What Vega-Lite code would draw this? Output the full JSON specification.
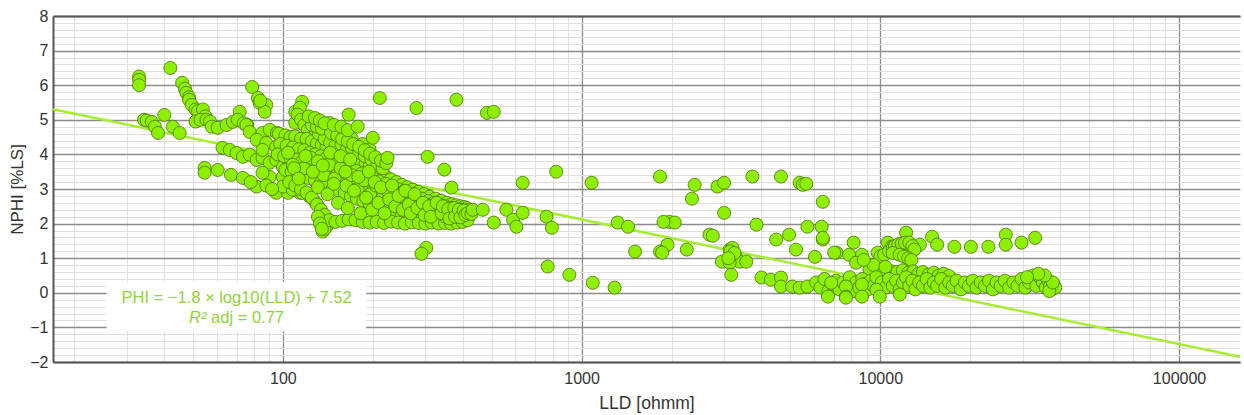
{
"$schema": "https://vega.github.io/schema/vega-lite/v6.json",
"width": 1187,
"height": 346,
"autosize": "none",
"padding": {"left": 53, "top": 16, "right": 4, "bottom": 53},
"background": "white",
"config": {"view": {"stroke": null}, "font": "Liberation Sans"},
"datasets": {
"fit": [{"x": 17, "y": 5.305}, {"x": 160000, "y": -1.847}],
"box": [{"x": 25.7, "x2": 190, "y": 0.32, "y2": -1.12}],
"note1": [{"x": 70, "y": -0.14, "label": "PHI = −1.8 × log10(LLD) + 7.52"}],
"note2": [{"x": 55.5, "y": -0.72, "label": "R²"}],
"note3": [{"x": 57.5, "y": -0.72, "label": "adj = 0.77"}],
"pts": [
{"x":33,"y":6.25},{"x":33,"y":6.15},{"x":33,"y":6.0},{"x":42,"y":6.5},
{"x":46,"y":6.07},{"x":47,"y":5.9},{"x":47.5,"y":5.78},{"x":48.5,"y":5.65},{"x":48.5,"y":5.58},{"x":49.5,"y":5.43},{"x":51,"y":5.3},{"x":52,"y":5.25},{"x":54,"y":5.3},{"x":55,"y":5.1},{"x":51,"y":4.95},{"x":53,"y":5.0},{"x":55.5,"y":5.0},{"x":57,"y":4.95},
{"x":34.3,"y":5.0},{"x":35,"y":4.98},{"x":36.4,"y":4.94},{"x":37.3,"y":4.8},{"x":38.2,"y":4.62},{"x":40.1,"y":5.14},{"x":42.8,"y":4.8},{"x":45.1,"y":4.62},
{"x":54.7,"y":3.61},{"x":54.7,"y":3.47},{"x":60.5,"y":3.55},{"x":67,"y":3.41},
{"x":57.8,"y":4.8},{"x":60.5,"y":4.77},{"x":64.8,"y":4.85},{"x":68,"y":4.94},{"x":71.7,"y":5.23},{"x":70.6,"y":5.0},{"x":76,"y":4.85},{"x":74,"y":4.9},
{"x":78.9,"y":5.95},{"x":82.5,"y":5.63},{"x":83.6,"y":5.49},{"x":88,"y":5.43},{"x":86.9,"y":5.23},{"x":84,"y":5.55},
{"x":62.8,"y":4.19},{"x":66.4,"y":4.13},{"x":70,"y":4.04},{"x":73.5,"y":3.93},{"x":77.4,"y":3.99},{"x":81.7,"y":3.84},{"x":85.5,"y":3.9},{"x":90.3,"y":3.76},{"x":95,"y":3.84},{"x":100,"y":3.64},{"x":105,"y":3.76},
{"x":73.5,"y":3.32},{"x":81.7,"y":3.07},{"x":95,"y":2.89},{"x":104,"y":2.89},{"x":114,"y":2.89},{"x":123,"y":2.78},{"x":129,"y":2.6},{"x":136,"y":1.77},{"x":140,"y":1.91},{"x":138,"y":1.85},
{"x":75.5,"y":4.85},{"x":77.4,"y":4.65},{"x":85.5,"y":4.62},{"x":90.3,"y":4.71},{"x":95.6,"y":4.62},{"x":81.7,"y":4.42},{"x":88,"y":4.33},{"x":95,"y":4.22},{"x":100,"y":4.36},{"x":85.5,"y":4.13},{"x":90.3,"y":3.35},{"x":100,"y":3.35},{"x":85.5,"y":3.47},{"x":100,"y":3.07},{"x":108,"y":2.98},{"x":116,"y":2.89},{"x":127,"y":3.27},{"x":78,"y":3.2},{"x":88,"y":3.1},{"x":92,"y":3.0},
{"x":116,"y":5.52},{"x":110,"y":5.23},{"x":113,"y":5.09},{"x":110,"y":4.91},{"x":120,"y":4.91},{"x":126,"y":4.71},{"x":136,"y":4.8},{"x":114,"y":5.35},{"x":112,"y":5.15},{"x":115,"y":5.0},{"x":118,"y":4.85},{"x":121,"y":4.7},{"x":127,"y":4.51},{"x":129,"y":4.65},{"x":143,"y":4.91},{"x":146,"y":4.62},{"x":140,"y":4.75},{"x":150,"y":4.6},{"x":155,"y":4.45},
{"x":97,"y":4.6},{"x":102,"y":4.55},{"x":106,"y":4.5},{"x":110,"y":4.52},{"x":115,"y":4.45},{"x":120,"y":4.45},{"x":125,"y":4.38},{"x":130,"y":4.32},{"x":135,"y":4.28},{"x":140,"y":4.2},{"x":146,"y":4.12},{"x":152,"y":4.06},{"x":160,"y":4.0},{"x":166,"y":3.95},{"x":172,"y":3.9},{"x":177,"y":3.85},{"x":183,"y":3.78},{"x":189,"y":3.72},{"x":195,"y":3.65},{"x":203,"y":3.56},{"x":211,"y":3.47},{"x":220,"y":3.38},{"x":230,"y":3.28},{"x":240,"y":3.2},{"x":250,"y":3.12},{"x":261,"y":3.05},{"x":272,"y":2.98},{"x":284,"y":2.92},{"x":297,"y":2.85},{"x":310,"y":2.78},{"x":324,"y":2.72},{"x":339,"y":2.66},{"x":354,"y":2.6},{"x":368,"y":2.56},{"x":380,"y":2.53},{"x":392,"y":2.5},{"x":405,"y":2.48},{"x":413,"y":2.45},{"x":420,"y":2.4},{"x":425,"y":2.35},
{"x":98,"y":4.3},{"x":103,"y":4.25},{"x":108,"y":4.2},{"x":113,"y":4.15},{"x":118,"y":4.12},{"x":123,"y":4.05},{"x":128,"y":4.0},{"x":134,"y":3.95},{"x":140,"y":3.9},{"x":146,"y":3.82},{"x":153,"y":3.75},{"x":160,"y":3.68},{"x":168,"y":3.6},{"x":176,"y":3.52},{"x":184,"y":3.45},{"x":192,"y":3.38},{"x":201,"y":3.3},{"x":210,"y":3.22},{"x":220,"y":3.15},{"x":231,"y":3.07},{"x":242,"y":3.0},{"x":254,"y":2.93},{"x":266,"y":2.86},{"x":279,"y":2.78},{"x":292,"y":2.72},{"x":306,"y":2.65},{"x":320,"y":2.6},{"x":335,"y":2.55},{"x":350,"y":2.5},{"x":365,"y":2.45},{"x":380,"y":2.42},{"x":395,"y":2.4},{"x":410,"y":2.35},
{"x":96,"y":4.0},{"x":101,"y":3.95},{"x":106,"y":3.9},{"x":111,"y":3.85},{"x":116,"y":3.8},{"x":121,"y":3.75},{"x":127,"y":3.7},{"x":133,"y":3.62},{"x":139,"y":3.55},{"x":145,"y":3.5},{"x":152,"y":3.42},{"x":159,"y":3.35},{"x":167,"y":3.28},{"x":175,"y":3.2},{"x":183,"y":3.12},{"x":192,"y":3.05},{"x":201,"y":2.98},{"x":211,"y":2.9},{"x":222,"y":2.83},{"x":233,"y":2.76},{"x":245,"y":2.7},{"x":258,"y":2.63},{"x":271,"y":2.56},{"x":285,"y":2.5},{"x":300,"y":2.45},{"x":315,"y":2.4},{"x":331,"y":2.35},{"x":347,"y":2.3},{"x":363,"y":2.28},{"x":380,"y":2.25},{"x":398,"y":2.22},
{"x":102,"y":3.55},{"x":107,"y":3.5},{"x":112,"y":3.45},{"x":117,"y":3.4},{"x":122,"y":3.32},{"x":128,"y":3.25},{"x":134,"y":3.18},{"x":140,"y":3.1},{"x":147,"y":3.02},{"x":154,"y":2.95},{"x":161,"y":2.88},{"x":169,"y":2.8},{"x":177,"y":2.72},{"x":186,"y":2.65},{"x":195,"y":2.58},{"x":205,"y":2.52},{"x":215,"y":2.46},{"x":226,"y":2.4},{"x":238,"y":2.35},{"x":250,"y":2.3},{"x":263,"y":2.25},{"x":277,"y":2.2},{"x":291,"y":2.18},{"x":306,"y":2.15},{"x":322,"y":2.12},{"x":338,"y":2.1},{"x":355,"y":2.08},{"x":372,"y":2.1},{"x":390,"y":2.12},{"x":405,"y":2.15},{"x":418,"y":2.2},
{"x":105,"y":3.2},{"x":110,"y":3.1},{"x":115,"y":3.0},{"x":120,"y":2.9},{"x":125,"y":2.75},{"x":130,"y":2.55},{"x":134,"y":2.4},{"x":138,"y":2.25},{"x":143,"y":2.1},{"x":150,"y":2.05},{"x":158,"y":2.08},{"x":166,"y":2.12},{"x":175,"y":2.1},{"x":185,"y":2.05},{"x":195,"y":2.03},{"x":206,"y":2.05},{"x":218,"y":2.02},{"x":230,"y":2.06},{"x":243,"y":2.03},{"x":256,"y":2.0},{"x":270,"y":2.04},{"x":285,"y":2.02},{"x":300,"y":2.0},{"x":315,"y":2.03},{"x":332,"y":2.0},{"x":349,"y":2.02},{"x":366,"y":2.0},{"x":383,"y":2.03},{"x":400,"y":2.05},{"x":415,"y":2.1},
{"x":108,"y":3.7},{"x":118,"y":3.6},{"x":124,"y":3.9},{"x":131,"y":3.8},{"x":137,"y":3.4},{"x":143,"y":3.7},{"x":149,"y":3.3},{"x":156,"y":3.6},{"x":163,"y":3.1},{"x":170,"y":3.4},{"x":178,"y":3.0},{"x":187,"y":3.25},{"x":196,"y":2.85},{"x":205,"y":3.1},{"x":214,"y":2.7},{"x":224,"y":2.95},{"x":235,"y":2.6},{"x":247,"y":2.85},{"x":260,"y":2.45},{"x":274,"y":2.68},{"x":288,"y":2.35},{"x":303,"y":2.55},{"x":318,"y":2.3},{"x":334,"y":2.45},{"x":350,"y":2.2},{"x":368,"y":2.35},{"x":385,"y":2.3},{"x":400,"y":2.28},
{"x":132,"y":4.6},{"x":138,"y":4.45},{"x":144,"y":4.35},{"x":150,"y":4.25},{"x":157,"y":4.3},{"x":164,"y":4.15},{"x":170,"y":4.2},{"x":180,"y":4.05},{"x":188,"y":3.95},{"x":198,"y":3.85},{"x":207,"y":3.7},{"x":216,"y":3.6},{"x":185,"y":4.3},{"x":195,"y":4.15},{"x":160,"y":4.55},{"x":170,"y":4.45},
{"x":125,"y":4.85},{"x":130,"y":4.8},{"x":135,"y":4.75},{"x":145,"y":4.62},{"x":152,"y":4.55},{"x":158,"y":4.45},{"x":165,"y":4.38},{"x":172,"y":4.3},{"x":180,"y":4.22},{"x":188,"y":4.12},{"x":196,"y":4.02},{"x":204,"y":3.92},{"x":213,"y":3.82},{"x":222,"y":3.75},
{"x":122,"y":5.1},{"x":128,"y":5.05},{"x":133,"y":4.98},{"x":138,"y":4.9},{"x":148,"y":4.85},{"x":157,"y":4.8},{"x":165,"y":4.7},
{"x":104,"y":4.05},{"x":109,"y":3.6},{"x":113,"y":3.3},{"x":119,"y":3.95},{"x":126,"y":3.5},{"x":131,"y":3.05},{"x":136,"y":3.68},{"x":141,"y":2.85},{"x":144,"y":4.05},{"x":148,"y":3.15},{"x":153,"y":2.6},{"x":156,"y":3.95},{"x":162,"y":3.5},{"x":165,"y":2.45},{"x":168,"y":3.85},{"x":173,"y":2.95},{"x":179,"y":3.35},{"x":182,"y":2.3},{"x":190,"y":2.75},{"x":194,"y":3.5},{"x":199,"y":2.4},{"x":203,"y":3.2},{"x":209,"y":2.6},{"x":213,"y":3.05},{"x":219,"y":2.3},{"x":227,"y":2.7},{"x":232,"y":3.1},{"x":238,"y":2.5},{"x":244,"y":2.8},{"x":252,"y":2.4},{"x":257,"y":2.95},{"x":264,"y":2.55},{"x":268,"y":2.3},{"x":276,"y":2.85},{"x":282,"y":2.45},{"x":294,"y":2.6},{"x":298,"y":2.25},{"x":309,"y":2.5},{"x":313,"y":2.2},{"x":327,"y":2.6},{"x":340,"y":2.3},{"x":343,"y":2.5},{"x":358,"y":2.42},{"x":361,"y":2.15},{"x":375,"y":2.45},{"x":377,"y":2.2},{"x":388,"y":2.4},{"x":393,"y":2.18},{"x":403,"y":2.38},{"x":408,"y":2.25},{"x":416,"y":2.3},{"x":428,"y":2.28},{"x":432,"y":2.4},{"x":131,"y":2.2},{"x":133,"y":2.0},{"x":135,"y":1.85},
{"x":166,"y":5.15},{"x":178,"y":4.8},{"x":200,"y":4.48},{"x":224,"y":3.9},{"x":305,"y":3.93},{"x":347,"y":3.56},{"x":367,"y":3.04},{"x":302,"y":1.3},{"x":291,"y":1.13},
{"x":211,"y":5.63},{"x":280,"y":5.34},{"x":381,"y":5.58},{"x":482,"y":5.2},{"x":508,"y":5.23},
{"x":467,"y":2.40},{"x":508,"y":2.03},{"x":560,"y":2.40},{"x":590,"y":2.11},{"x":605,"y":1.91},{"x":635,"y":2.31},{"x":635,"y":3.18},{"x":763,"y":2.20},{"x":795,"y":1.88},{"x":822,"y":3.50},{"x":770,"y":0.76},{"x":910,"y":0.52},{"x":1080,"y":3.18},{"x":1090,"y":0.29},{"x":1290,"y":0.15},{"x":1320,"y":2.03},{"x":1430,"y":1.91},{"x":1510,"y":1.19},{"x":1830,"y":3.36},{"x":1970,"y":2.05},{"x":2050,"y":2.03},{"x":1880,"y":2.05},{"x":1940,"y":1.39},{"x":1830,"y":1.19},{"x":1860,"y":1.16},{"x":2250,"y":1.25},{"x":2340,"y":2.72},{"x":2390,"y":3.12},{"x":2680,"y":1.68},{"x":2750,"y":1.65},{"x":2850,"y":3.07},{"x":3000,"y":3.18},{"x":3000,"y":2.31},{"x":3130,"y":1.25},{"x":3200,"y":1.30},{"x":3290,"y":1.04},{"x":3380,"y":0.90},{"x":2950,"y":0.90},{"x":3130,"y":0.87},{"x":3560,"y":0.90},{"x":3150,"y":1.2},{"x":3250,"y":1.15},{"x":3100,"y":1.0},{"x":3170,"y":0.52},{"x":3730,"y":3.36},{"x":3850,"y":1.97},{"x":4000,"y":0.44},{"x":4300,"y":0.38},{"x":4650,"y":0.44},{"x":4650,"y":0.18},{"x":5070,"y":0.18},{"x":5370,"y":0.15},{"x":5700,"y":0.18},{"x":4480,"y":1.54},{"x":4650,"y":3.36},{"x":4950,"y":1.68},{"x":5220,"y":1.25},{"x":5370,"y":3.18},{"x":5500,"y":3.12},{"x":5650,"y":3.15},{"x":5700,"y":1.91},{"x":6040,"y":1.04},{"x":6420,"y":2.63},{"x":6360,"y":1.91},{"x":6420,"y":1.54},{"x":7130,"y":1.16},{"x":7860,"y":1.10},{"x":8140,"y":1.45},{"x":8680,"y":1.10},
{"x":6420,"y":1.59},{"x":7010,"y":1.16},{"x":9800,"y":1.16},{"x":10600,"y":1.45},{"x":10900,"y":1.33},{"x":11400,"y":1.25},{"x":11800,"y":1.16},{"x":12300,"y":1.19},{"x":12200,"y":1.74},{"x":13560,"y":1.39},{"x":14900,"y":1.62},{"x":15500,"y":1.39},{"x":17700,"y":1.33},{"x":20100,"y":1.33},{"x":23000,"y":1.33},{"x":26300,"y":1.68},{"x":26300,"y":1.39},{"x":29700,"y":1.45},{"x":33000,"y":1.59},
{"x":10000,"y":1.05},{"x":10300,"y":1.1},{"x":10700,"y":1.2},{"x":11000,"y":1.3},{"x":11200,"y":1.35},{"x":11500,"y":1.4},{"x":11800,"y":1.42},{"x":12100,"y":1.45},{"x":12500,"y":1.45},{"x":12800,"y":1.35},{"x":13000,"y":1.25},{"x":11000,"y":1.15},{"x":11600,"y":1.1},{"x":12000,"y":1.05},{"x":12400,"y":1.0},{"x":12700,"y":0.95},
{"x":10900,"y":0.62},{"x":11400,"y":0.6},{"x":11900,"y":0.65},{"x":12400,"y":0.58},{"x":12900,"y":0.62},{"x":13400,"y":0.55},{"x":13900,"y":0.6},{"x":14500,"y":0.52},{"x":15100,"y":0.58},{"x":15700,"y":0.5},{"x":16300,"y":0.55},{"x":17000,"y":0.48},{"x":8300,"y":0.87},{"x":9200,"y":0.67},{"x":9960,"y":0.58},{"x":9500,"y":0.8},{"x":10400,"y":0.75},{"x":8800,"y":0.95},
{"x":6100,"y":0.3},{"x":6300,"y":0.15},{"x":6500,"y":0.4},{"x":6700,"y":0.05},{"x":6900,"y":0.25},{"x":7100,"y":0.35},{"x":7300,"y":0.1},{"x":7500,"y":0.3},{"x":7700,"y":0.2},{"x":7900,"y":0.45},{"x":8100,"y":0.05},{"x":8300,"y":0.3},{"x":8500,"y":0.15},{"x":8700,"y":0.4},{"x":8900,"y":0.25},{"x":9100,"y":0.1},{"x":9300,"y":0.35},{"x":9500,"y":0.2},{"x":9700,"y":0.45},{"x":9900,"y":0.05},{"x":10100,"y":0.3},{"x":10400,"y":0.15},{"x":10700,"y":0.4},{"x":11000,"y":0.2},{"x":11300,"y":0.35},{"x":11600,"y":0.1},{"x":11900,"y":0.3},{"x":12200,"y":0.45},{"x":12500,"y":0.2},{"x":12800,"y":0.35},{"x":13100,"y":0.1},{"x":13500,"y":0.3},{"x":13900,"y":0.2},{"x":14300,"y":0.4},{"x":14700,"y":0.15},{"x":15100,"y":0.3},{"x":15500,"y":0.2},{"x":16000,"y":0.4},{"x":16500,"y":0.15},{"x":17000,"y":0.3},{"x":17500,"y":0.2},{"x":18000,"y":0.35},{"x":18600,"y":0.1},{"x":19200,"y":0.3},{"x":19800,"y":0.2},{"x":20400,"y":0.35},{"x":21000,"y":0.15},{"x":21700,"y":0.3},{"x":22400,"y":0.2},{"x":23100,"y":0.35},{"x":23800,"y":0.1},{"x":24500,"y":0.3},{"x":25300,"y":0.2},{"x":26100,"y":0.35},{"x":27000,"y":0.15},{"x":27900,"y":0.3},{"x":28800,"y":0.2},{"x":29700,"y":0.4},{"x":30600,"y":0.15},{"x":31500,"y":0.3},{"x":32400,"y":0.5},{"x":33300,"y":0.2},{"x":34200,"y":0.45},{"x":35000,"y":0.3},{"x":35800,"y":0.15},{"x":36500,"y":0.35},{"x":37000,"y":0.2},{"x":37500,"y":0.1},{"x":38000,"y":0.25},{"x":38500,"y":0.15},{"x":36800,"y":0.05},{"x":37800,"y":0.3},{"x":35500,"y":0.5},{"x":33800,"y":0.55},{"x":31000,"y":0.45},
{"x":6850,"y":0.29},{"x":7670,"y":0.18},{"x":8680,"y":0.24},{"x":9700,"y":0.09},
{"x":6680,"y":-0.11},{"x":7670,"y":-0.11},{"x":8680,"y":-0.11},{"x":9960,"y":-0.11},{"x":11620,"y":-0.05},{"x":7670,"y":-0.14}
]
},
"layer": [
{
"data": {"name": "box"},
"mark": {"type": "rect", "fill": "white", "stroke": null},
"encoding": {
"x": {"field": "x", "type": "quantitative", "scale": {"type": "log", "domain": [17, 160000], "nice": false},
"axis": {"orient": "bottom", "values": [20,30,40,50,60,70,80,90,200,300,400,500,600,700,800,900,2000,3000,4000,5000,6000,7000,8000,9000,20000,30000,40000,50000,60000,70000,80000,90000], "labels": false, "ticks": false, "domain": false, "grid": true, "gridColor": "#e0e0e0", "gridWidth": 1, "title": null}},
"x2": {"field": "x2"},
"y": {"field": "y", "type": "quantitative", "scale": {"domain": [-2, 8], "nice": false, "zero": false},
"axis": {"orient": "left", "values": [-1.8,-1.6,-1.4,-1.2,-0.8,-0.6,-0.4,-0.2,0.2,0.4,0.6,0.8,1.2,1.4,1.6,1.8,2.2,2.4,2.6,2.8,3.2,3.4,3.6,3.8,4.2,4.4,4.6,4.8,5.2,5.4,5.6,5.8,6.2,6.4,6.6,6.8,7.2,7.4,7.6,7.8], "labels": false, "ticks": false, "domain": false, "grid": true, "gridColor": "#e0e0e0", "gridWidth": 1, "title": null}},
"y2": {"field": "y2"}
}
},
{
"data": {"name": "fit"},
"mark": {"type": "line", "color": "#a4ee32", "strokeWidth": 2.5, "clip": true},
"encoding": {
"x": {"field": "x", "type": "quantitative", "axis": {"orient": "top", "labels": false, "ticks": false, "grid": false, "domain": true, "domainColor": "#555555", "domainWidth": 2, "title": null}},
"y": {"field": "y", "type": "quantitative", "axis": null}
}
},
{
"data": {"name": "pts"},
"mark": {"type": "point", "shape": "circle", "filled": true, "fill": "#8cf000", "stroke": "#4a7400", "strokeWidth": 0.8, "opacity": 1, "size": 170},
"encoding": {
"x": {"field": "x", "type": "quantitative", "title": "LLD [ohmm]",
"axis": {"orient": "bottom", "values": [100, 1000, 10000, 100000], "format": "d", "grid": true, "gridColor": "#8c8c8c", "gridWidth": 1.3, "ticks": false, "domain": true, "domainColor": "#555555", "domainWidth": 2, "labelFontSize": 16, "labelColor": "#333333", "labelPadding": 8, "titleFontSize": 17.5, "titleFontWeight": "normal", "titleColor": "#333333", "titlePadding": 8}},
"y": {"field": "y", "type": "quantitative", "title": "NPHI [%LS]",
"axis": {"orient": "left", "values": [-2,-1,0,1,2,3,4,5,6,7,8], "format": "d", "grid": true, "gridColor": "#8c8c8c", "gridWidth": 1.3, "ticks": false, "domain": true, "domainColor": "#555555", "domainWidth": 2, "labelFontSize": 16, "labelColor": "#333333", "labelPadding": 5, "titleFontSize": 17, "titleFontWeight": "normal", "titleColor": "#333333", "titlePadding": 3}}
}
},
{
"data": {"name": "note1"},
"mark": {"type": "text", "fontSize": 16.5, "color": "#8fd43e", "align": "center", "baseline": "middle"},
"encoding": {
"x": {"field": "x", "type": "quantitative", "axis": null},
"y": {"field": "y", "type": "quantitative", "axis": null},
"text": {"field": "label"}
}
},
{
"data": {"name": "note2"},
"mark": {"type": "text", "fontSize": 16.5, "fontStyle": "italic", "color": "#8fd43e", "align": "right", "baseline": "middle"},
"encoding": {
"x": {"field": "x", "type": "quantitative", "axis": null},
"y": {"field": "y", "type": "quantitative", "axis": null},
"text": {"field": "label"}
}
},
{
"data": {"name": "note3"},
"mark": {"type": "text", "fontSize": 16.5, "color": "#8fd43e", "align": "left", "baseline": "middle"},
"encoding": {
"x": {"field": "x", "type": "quantitative", "axis": null},
"y": {"field": "y", "type": "quantitative", "axis": null},
"text": {"field": "label"}
}
}
],
"resolve": {"axis": {"x": "independent", "y": "independent"}}
}
